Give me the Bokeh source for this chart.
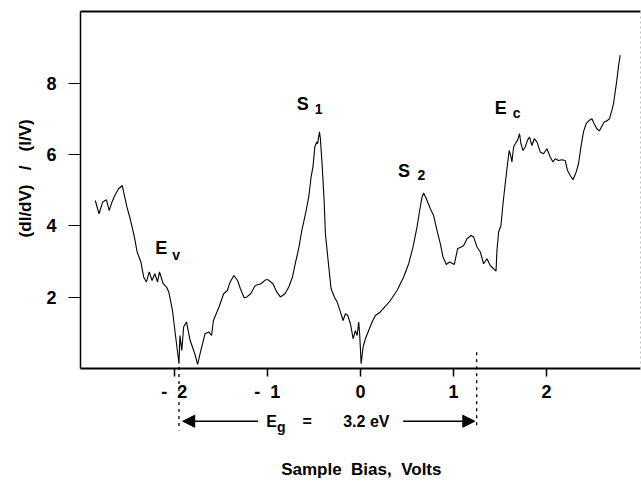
import math
from bokeh.plotting import figure
from bokeh.models import Range1d, FixedTicker, Label, Arrow, NormalHead, LinearAxis
from bokeh.embed import file_html
from bokeh.resources import INLINE

# Normalized tunneling conductance vs. sample bias
bias_v = [
    -2.85, -2.81, -2.77, -2.73, -2.70, -2.67, -2.64, -2.60, -2.56, -2.51,
    -2.47, -2.43, -2.40, -2.36, -2.33, -2.30, -2.27, -2.24, -2.21, -2.18,
    -2.16, -2.12, -2.08, -2.06, -2.02, -1.99, -1.95, -1.94, -1.92, -1.90,
    -1.87, -1.83, -1.78, -1.75, -1.72, -1.67, -1.63, -1.60, -1.58, -1.52,
    -1.47, -1.43, -1.40, -1.36, -1.32, -1.29, -1.25, -1.22, -1.18, -1.13,
    -1.07, -1.02, -0.99, -0.94, -0.90, -0.86, -0.81, -0.77, -0.73, -0.70,
    -0.66, -0.63, -0.59, -0.555, -0.53, -0.51, -0.49, -0.47, -0.46, -0.44,
    -0.43, -0.41, -0.39, -0.376, -0.34, -0.315, -0.28, -0.25, -0.215, -0.186,
    -0.161, -0.136, -0.107, -0.078, -0.054, -0.035, -0.018, -0.008, 0.008, 0.029,
    0.054, 0.089, 0.126, 0.161, 0.215, 0.269, 0.322, 0.394, 0.465, 0.519,
    0.566, 0.609, 0.637, 0.663, 0.680, 0.709, 0.752, 0.787, 0.824, 0.859,
    0.888, 0.924, 0.959, 1.010, 1.045, 1.082, 1.110, 1.146, 1.189, 1.217,
    1.253, 1.289, 1.324, 1.361, 1.396, 1.432, 1.458, 1.468, 1.486, 1.511,
    1.533, 1.557, 1.582, 1.600, 1.619, 1.629, 1.647, 1.665, 1.690, 1.711,
    1.726, 1.748, 1.772, 1.797, 1.818, 1.844, 1.869, 1.898, 1.933, 1.969,
    2.005, 2.041, 2.070, 2.095, 2.130, 2.166, 2.202, 2.227, 2.256, 2.285,
    2.320, 2.345, 2.371, 2.398, 2.427, 2.463, 2.489, 2.513, 2.542, 2.570,
    2.596, 2.621, 2.650, 2.678, 2.704, 2.721, 2.757, 2.774, 2.793,
]
didv_norm = [
    4.71, 4.34, 4.67, 4.73, 4.43, 4.67, 4.85, 5.04, 5.13, 4.53,
    4.15, 3.69, 3.27, 2.99, 2.57, 2.43, 2.71, 2.47, 2.66, 2.43,
    2.71, 2.38, 2.27, 2.15, 1.63, 0.98, 0.14, 0.93, 0.51, 1.17,
    1.31, 0.79, 0.42, 0.12, 0.46, 0.98, 1.03, 0.93, 1.35, 1.73,
    2.10, 2.19, 2.43, 2.61, 2.47, 2.24, 1.99, 2.01, 2.10, 2.33,
    2.38, 2.49, 2.49, 2.38, 2.15, 2.01, 2.10, 2.29, 2.57, 2.94,
    3.41, 3.87, 4.34, 4.81, 5.37, 5.65, 6.21, 6.35, 6.30, 6.63,
    6.44, 5.65, 4.71, 3.78, 2.85, 2.24, 2.01, 1.87, 1.59, 1.35,
    1.54, 1.49, 1.26, 0.84, 1.07, 0.93, 1.31, 0.98, 0.14, 0.61,
    0.84, 1.07, 1.31, 1.49, 1.59, 1.75, 1.91, 2.19, 2.57, 2.94,
    3.41, 3.97, 4.43, 4.81, 4.92, 4.76, 4.48, 4.29, 3.87, 3.50,
    3.13, 2.92, 2.99, 2.92, 3.36, 3.41, 3.45, 3.64, 3.73, 3.69,
    3.41, 3.27, 2.94, 3.08, 2.89, 2.80, 2.73, 3.31, 3.83, 4.01,
    4.62, 5.18, 5.74, 6.11, 5.93, 5.79, 6.21, 6.30, 6.40, 6.58,
    6.30, 6.11, 6.21, 6.40, 6.49, 6.25, 6.44, 6.35, 6.07, 6.02,
    6.16, 5.93, 5.79, 5.88, 5.83, 5.85, 5.83, 5.55, 5.41, 5.29,
    5.51, 5.74, 6.21, 6.63, 6.86, 6.96, 7.00, 6.86, 6.72, 6.66,
    6.79, 6.91, 6.94, 7.00, 7.24, 7.42, 8.08, 8.45, 8.78,
]

x_ticks = [-2, -1, 0, 1, 2]
x_tick_labels = ["-\u00a0\u00a02", "-\u00a0\u00a01", "0", "1", "2"]
y_ticks = [2, 4, 6, 8]

# plotted box: bias -3.01..3.01 V, conductance 0..10
X0, X1 = -3.01, 3.01
Y0, Y1 = 0, 10

# Band edges: valence-band edge and the gap width stated on the plot
ev_edge = -1.95
gap_ev = 3.2
ec_edge = ev_edge + gap_ev

FONT = "Liberation Sans"

# the frame fills the canvas so that the annotations below the axis stay visible;
# the axes are pinned to the edges of the data box
p = figure(width=641, height=483,
           x_range=Range1d(-3.869, 3.022), y_range=Range1d(-3.213, 10.31),
           output_backend="svg", toolbar_location=None,
           min_border=0, min_border_left=0, min_border_right=0,
           min_border_top=0, min_border_bottom=0)
p.grid.visible = False
p.outline_line_color = None
p.background_fill_color = "white"
p.border_fill_color = "white"

p.line(bias_v, didv_norm, line_color="black", line_width=1.1)

xa = p.xaxis[0]
xa.fixed_location = Y0
xa.bounds = (X0, X1)
xa.ticker = FixedTicker(ticks=x_ticks)
xa.major_label_overrides = dict(zip(x_ticks, x_tick_labels))
xa.minor_tick_line_color = None
xa.major_tick_out = 8
xa.major_tick_in = 0
xa.axis_line_width = 2
xa.major_tick_line_width = 1.5
xa.major_label_text_font = FONT
xa.major_label_text_font_style = "bold"
xa.major_label_text_font_size = "18px"
xa.major_label_text_color = "black"
xa.major_label_standoff = 5

ya = p.yaxis[0]
ya.fixed_location = X0
ya.bounds = (Y0, Y1)
ya.ticker = FixedTicker(ticks=y_ticks)
ya.minor_tick_line_color = None
ya.major_tick_out = 12
ya.major_tick_in = 0
ya.axis_line_width = 1.5
ya.major_tick_line_width = 1.2
ya.major_label_text_font = FONT
ya.major_label_text_font_style = "bold"
ya.major_label_text_font_size = "18px"
ya.major_label_text_color = "black"
ya.major_label_standoff = 12

# top edge solid, right edge faint and dotted
top = LinearAxis(fixed_location=Y1, bounds=(X0, X1), ticker=FixedTicker(ticks=[]),
                 axis_line_width=2, major_tick_line_color=None,
                 minor_tick_line_color=None, major_label_text_font_size="0px")
right = LinearAxis(fixed_location=X1, bounds=(Y0, Y1), ticker=FixedTicker(ticks=[]),
                   axis_line_color="#c0c0c0", axis_line_width=1, axis_line_dash="2 3",
                   major_tick_line_color=None, minor_tick_line_color=None,
                   major_label_text_font_size="0px")
p.add_layout(top, "above")
p.add_layout(right, "right")


def put_text(x, y, text, size="18px", angle=0.0):
    p.add_layout(Label(x=x, y=y, text=text, text_align="center",
                       text_baseline="middle", text_font=FONT,
                       text_font_style="bold", text_font_size=size,
                       text_color="black", angle=angle))


# axis titles
put_text(-3.600, 5.33, "(dI/dV)\u00a0\u00a0\u00a0/\u00a0\u00a0\u00a0(I/V)", "17px", math.pi / 2)
put_text(0.01, -2.83, "Sample\u00a0\u00a0Bias,\u00a0\u00a0Volts", "17px")

# feature labels with subscripts
put_text(-0.62, 7.40, "S")
put_text(-0.45, 7.28, "1", "14px")
put_text(0.47, 5.55, "S")
put_text(0.655, 5.42, "2", "14px")
put_text(1.51, 7.30, "E")
put_text(1.68, 7.16, "c", "14px")
put_text(-2.14, 3.37, "E")
put_text(-1.98, 3.19, "v", "14px")

# band gap marker below the axis
y_eg = -1.47
p.add_layout(Arrow(end=None, x_start=ev_edge, y_start=0.05, x_end=ev_edge, y_end=-1.73,
                   line_color="black", line_width=1.3, line_dash="3 4"))
p.add_layout(Arrow(end=None, x_start=ec_edge, y_start=0.46, x_end=ec_edge, y_end=-1.64,
                   line_color="black", line_width=1.3, line_dash="3 4"))
p.add_layout(Arrow(end=NormalHead(size=12, fill_color="black", line_color="black"),
                   x_start=-1.10, y_start=y_eg, x_end=ev_edge + 0.04, y_end=y_eg,
                   line_color="black", line_width=1.5))
p.add_layout(Arrow(end=NormalHead(size=12, fill_color="black", line_color="black"),
                   x_start=0.46, y_start=y_eg, x_end=ec_edge - 0.02, y_end=y_eg,
                   line_color="black", line_width=1.5))
put_text(-0.956, y_eg, "E", "16px")
put_text(-0.85, y_eg - 0.15, "g", "14px")
put_text(-0.573, y_eg, "=", "16px")
put_text(0.064, y_eg, f"{gap_ev}\u00a0eV", "16px")

open("out.html", "w").write(file_html(p, INLINE))
